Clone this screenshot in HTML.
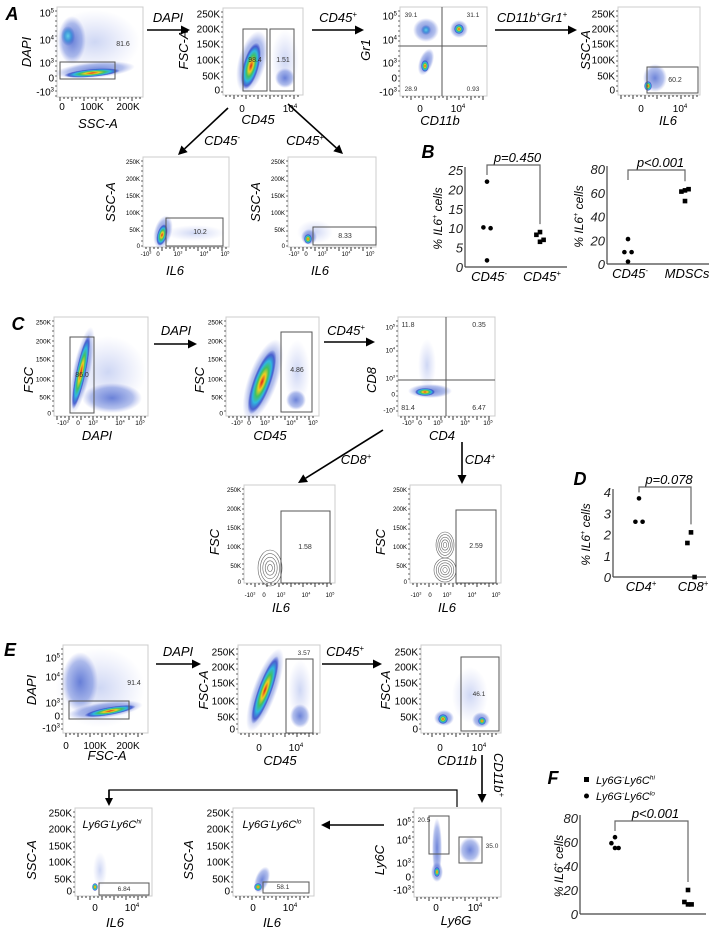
<!DOCTYPE html>
<html><head><meta charset="utf-8"><style>
html,body{margin:0;padding:0;background:#fff;}
svg{display:block;font-family:"Liberation Sans",sans-serif;}
</style></head><body>
<svg id="fig" width="709" height="933" viewBox="0 0 709 933" xmlns="http://www.w3.org/2000/svg">
<defs>
<radialGradient id="heat"><stop offset="0" stop-color="#e0201a"/><stop offset="0.25" stop-color="#f0d020"/><stop offset="0.45" stop-color="#40c060"/><stop offset="0.65" stop-color="#30b8e0"/><stop offset="0.85" stop-color="#3048c8" stop-opacity="0.8"/><stop offset="1" stop-color="#3048c8" stop-opacity="0"/></radialGradient>
<radialGradient id="haze"><stop offset="0" stop-color="#3050c8" stop-opacity="0.7"/><stop offset="0.7" stop-color="#4060d0" stop-opacity="0.4"/><stop offset="1" stop-color="#6070d8" stop-opacity="0"/></radialGradient>
<radialGradient id="lite"><stop offset="0" stop-color="#5070d8" stop-opacity="0.28"/><stop offset="1" stop-color="#7080e0" stop-opacity="0"/></radialGradient>
<radialGradient id="cyan"><stop offset="0" stop-color="#60d0e8"/><stop offset="0.5" stop-color="#3090d8" stop-opacity="0.8"/><stop offset="1" stop-color="#3050c8" stop-opacity="0"/></radialGradient>
</defs>
</svg>
<script>
// ---------- chart data ----------
const bLeftCats = ['CD45^{-}', 'CD45^{+}'];
const bLeftNeg = [22, 10.2, 10, 1.7];
const bLeftPos = [9, 8.3, 7, 6.5];
const bLeftTicks = [0, 5, 10, 15, 20, 25];
const bRightCats = ['CD45^{-}', 'MDSCs'];
const bRightNeg = [21, 10, 10, 2];
const bRightMdsc = [62, 61, 63, 53];
const bRightTicks = [0, 20, 40, 60, 80];
const dCats = ['CD4^{+}', 'CD8^{+}'];
const dCd4 = [3.7, 2.6, 2.6];
const dCd8 = [2.1, 1.6, 0];
const dTicks = [0, 1, 2, 3, 4];
const fLo = [64, 59, 55, 55];
const fHi = [20, 10, 8, 8];
const fTicks = [0, 20, 40, 60, 80];

const NS = 'http://www.w3.org/2000/svg';
const svg = document.getElementById('fig');
function mk(tag, attrs, name, parent) {
  const el = document.createElementNS(NS, tag);
  for (const k in attrs) el.setAttribute(k, attrs[k]);
  
  
  (parent || svg).appendChild(el);
  return el;
}
// text with ^x or ^{..} superscript support
function txt(x, y, s, size, name, opt) {
  opt = opt || {};
  const a = {x: x, y: y, 'font-size': size, fill: opt.fill || '#000', 'text-anchor': opt.anchor || 'middle'};
  if (opt.italic) a['font-style'] = 'italic';
  if (opt.bold) a['font-weight'] = 'bold';
  if (opt.rot) a.transform = 'rotate(' + opt.rot + ' ' + x + ' ' + y + ')';
  const t = mk('text', a, name, opt.parent);
  const re = /\^\{([^}]*)\}|\^(.)/g;
  let last = 0, m, raised = false;
  const add = (str, sup) => {
    if (!str) return;
    const sp = document.createElementNS(NS, 'tspan');
    if (sup && !raised) { sp.setAttribute('dy', -size * 0.4); raised = true; }
    else if (!sup && raised) { sp.setAttribute('dy', size * 0.4); raised = false; }
    if (sup) sp.setAttribute('font-size', size * 0.6);
    sp.textContent = str;
    t.appendChild(sp);
  };
  while ((m = re.exec(s))) {
    add(s.slice(last, m.index), false);
    add(m[1] !== undefined ? m[1] : m[2], true);
    last = re.lastIndex;
  }
  add(s.slice(last), false);
  return t;
}
function arrow(x1, y1, x2, y2, name, head) {
  head = head || 9;
  const g = mk('g', {}, name);
  const ang = Math.atan2(y2 - y1, x2 - x1);
  const bx = x2 - head * Math.cos(ang), by = y2 - head * Math.sin(ang);
  mk('line', {x1: x1, y1: y1, x2: bx, y2: by, stroke: '#000', 'stroke-width': 1.6}, 'arrow-shaft', g);
  const px = Math.sin(ang) * head * 0.5, py = -Math.cos(ang) * head * 0.5;
  mk('polygon', {points: x2 + ',' + y2 + ' ' + (bx + px) + ',' + (by + py) + ' ' + (bx - px) + ',' + (by - py), fill: '#000'}, 'arrow-head', g);
  return g;
}
function blob(g, type, cx, cy, rx, ry, rot) {
  mk('ellipse', {cx: cx, cy: cy, rx: rx, ry: ry, fill: 'url(#' + type + ')', transform: 'rotate(' + (rot || 0) + ' ' + cx + ' ' + cy + ')'}, 'cell-population', g);
}
function flow(c) {
  const g = mk('g', {}, c.name);
  mk('rect', {x: c.x, y: c.y, width: c.w, height: c.h, fill: '#fff', stroke: '#ccc', 'stroke-width': 1}, 'plot-frame', g);
  (c.blobs || []).forEach(b => blob(g, b[0], b[1], b[2], b[3], b[4], b[5]));
  (c.contours || []).forEach(b => {
    for (let i = 1; i <= 5; i++) mk('ellipse', {cx: b[0], cy: b[1], rx: b[2] * i / 5, ry: b[3] * i / 5, fill: 'none', stroke: '#666', 'stroke-width': 0.6}, 'contour', g);
  });
  (c.gates || []).forEach(r => mk('rect', {x: r[0], y: r[1], width: r[2] - r[0], height: r[3] - r[1], fill: 'none', stroke: '#555', 'stroke-width': 1}, 'gate', g));
  if (c.cross) {
    mk('line', {x1: c.cross[0], y1: c.y, x2: c.cross[0], y2: c.y + c.h, stroke: '#555', 'stroke-width': 1}, 'quadrant-line-v', g);
    mk('line', {x1: c.x, y1: c.cross[1], x2: c.x + c.w, y2: c.cross[1], stroke: '#555', 'stroke-width': 1}, 'quadrant-line-h', g);
  }
  (c.nums || []).forEach(n => txt(n[0], n[1], n[2], c.nfs || 7, 'gate-percentage', {fill: '#333', parent: g}));
  for (let xx = c.x + 3; xx < c.x + c.w - 2; xx += 4) mk('line', {x1: xx, y1: c.y + c.h, x2: xx, y2: c.y + c.h + (xx % 3 === 0 ? 4 : 2), stroke: '#000', 'stroke-width': 0.8}, 'x-tick', g);
  for (let yy = c.y + 4; yy < c.y + c.h; yy += 5) mk('line', {x1: c.x, y1: yy, x2: c.x - 2, y2: yy, stroke: '#000', 'stroke-width': 0.6}, 'y-tick', g);
  (c.yt || []).forEach(t => txt(c.x - 3, t[1] + c.tfs * 0.35, t[0], c.tfs, 'y-tick-label', {anchor: 'end', parent: g}));
  (c.xt || []).forEach(t => txt(t[1], t[2] || (c.y + c.h + c.tfs + 5), t[0], c.tfs, 'x-tick-label', {parent: g}));
  if (c.xl) txt(c.xl[0], c.xl[1], c.xl[2], c.lfs || 13, 'x-axis-title', {italic: true, parent: g});
  if (c.yl) txt(c.yl[0], c.yl[1], c.yl[2], c.lfs || 13, 'y-axis-title', {italic: true, rot: -90, parent: g});
  if (c.title) txt(c.title[0], c.title[1], c.title[2], 11, 'plot-title', {italic: true, parent: g});
  return g;
}
const logY = (y0) => [['10^5', y0[0]], ['10^4', y0[1]], ['10^3', y0[2]], ['0', y0[3]], ['-10^3', y0[4]]];
const linY = (y0, lab) => lab.map((l, i) => [l, y0[i]]);
const K = ['250K', '200K', '150K', '100K', '50K', '0'];

[['A', 12, 20], ['B', 428, 158], ['C', 18, 330], ['D', 580, 485], ['E', 10, 656], ['F', 553, 784]].forEach(p => txt(p[1], p[2], p[0], 18, 'panel-label-' + p[0].toLowerCase(), {italic: true, bold: true}));

// ---- Row A ----
flow({name: 'plot-a-dapi-ssc', x: 57, y: 7, w: 86, h: 90, tfs: 10, yt: logY([13, 40, 63, 78, 92]),
  xt: [['0', 62, 110], ['100K', 92, 110], ['200K', 128, 110]], xl: [98, 128, 'SSC-A'], yl: [31, 52, 'DAPI'],
  blobs: [['lite', 95, 42, 45, 32], ['haze', 72, 40, 14, 24], ['cyan', 68, 36, 7, 10], ['haze', 95, 70, 40, 8, -5], ['heat', 92, 73, 28, 4, -5]],
  gates: [[60, 62, 115, 79]], nums: [[123, 46, '81.6']]});
arrow(147, 30, 190, 30, 'arrow-dapi'); txt(168, 22, 'DAPI', 13, 'arrow-label', {italic: true});
flow({name: 'plot-a-fsc-cd45', x: 223, y: 8, w: 80, h: 87, tfs: 10, yt: linY([14, 29, 44, 60, 76, 90], K),
  xt: [['0', 242, 112], ['10^4', 290, 112]], xl: [258, 124, 'CD45'], yl: [188, 50, 'FSC-A'],
  blobs: [['lite', 285, 60, 14, 30], ['haze', 285, 78, 10, 10], ['haze', 252, 62, 14, 32, 15], ['heat', 251, 66, 8, 24, 15]],
  gates: [[243, 29, 267, 91], [270, 29, 294, 91]], nums: [[255, 62, '98.4'], [283, 62, '1.51']]});
arrow(312, 30, 364, 30, 'arrow-cd45pos'); txt(338, 22, 'CD45^{+}', 13, 'arrow-label', {italic: true});
flow({name: 'plot-a-gr1-cd11b', x: 400, y: 7, w: 87, h: 89, tfs: 10, yt: logY([16, 40, 63, 78, 92]),
  xt: [['0', 420, 112], ['10^4', 458, 112]], xl: [440, 125, 'CD11b'], yl: [370, 50, 'Gr1'], cross: [442, 46],
  blobs: [['haze', 426, 30, 13, 12], ['cyan', 426, 30, 5, 5], ['haze', 459, 29, 9, 9], ['heat', 459, 29, 5, 5], ['haze', 426, 62, 7, 14, 20], ['heat', 425, 66, 4, 6]],
  nums: [[411, 17, '39.1'], [473, 17, '31.1'], [411, 91, '28.9'], [473, 91, '0.93']], nfs: 6.5});
arrow(495, 30, 577, 30, 'arrow-cd11b-gr1'); txt(532, 22, 'CD11b^{+}Gr1^{+}', 13, 'arrow-label', {italic: true});
flow({name: 'plot-a-ssc-il6', x: 618, y: 7, w: 82, h: 88, tfs: 10, yt: linY([14, 29, 44, 60, 76, 90], K),
  xt: [['0', 641, 112], ['10^4', 680, 112]], xl: [668, 125, 'IL6'], yl: [590, 50, 'SSC-A'],
  blobs: [['haze', 655, 78, 12, 14], ['heat', 648, 86, 4, 5]], gates: [[647, 67, 698, 93]], nums: [[675, 82, '60.2']]});
arrow(228, 108, 178, 155, 'arrow-cd45neg-down'); txt(222, 145, 'CD45^{-}', 13, 'arrow-label', {italic: true});
arrow(288, 104, 343, 154, 'arrow-cd45pos-down'); txt(305, 145, 'CD45^{+}', 13, 'arrow-label', {italic: true});
flow({name: 'plot-a-cd45neg-il6', x: 143, y: 157, w: 86, h: 90, tfs: 6, yt: linY([162, 179, 196, 213, 230, 246], K),
  xt: [['-10^3', 146, 256], ['0', 158, 256], ['10^3', 178, 256], ['10^4', 204, 256], ['10^5', 225, 256]], xl: [175, 275, 'IL6'], yl: [115, 202, 'SSC-A'],
  blobs: [['lite', 195, 233, 30, 8], ['haze', 163, 232, 9, 17, 15], ['heat', 162, 235, 5, 11, 15]], gates: [[166, 218, 223, 246]], nums: [[200, 234, '10.2']]});
flow({name: 'plot-a-cd45pos-il6', x: 288, y: 157, w: 88, h: 90, tfs: 6, yt: linY([162, 179, 196, 213, 230, 246], K),
  xt: [['-10^3', 294, 256], ['0', 306, 256], ['10^3', 322, 256], ['10^4', 346, 256], ['10^5', 370, 256]], xl: [320, 275, 'IL6'], yl: [260, 202, 'SSC-A'],
  blobs: [['lite', 315, 232, 18, 12], ['haze', 309, 237, 8, 8], ['heat', 308, 239, 4, 5]], gates: [[313, 227, 376, 245]], nums: [[345, 238, '8.33']]});

// ---- Row C ----
flow({name: 'plot-c-fsc-dapi', x: 54, y: 317, w: 94, h: 99, tfs: 6.5, yt: linY([322, 341, 359, 379, 397, 413], K),
  xt: [['-10^3', 63, 425], ['0', 78, 425], ['10^3', 93, 425], ['10^4', 120, 425], ['10^5', 140, 425]], xl: [97, 440, 'DAPI'], yl: [33, 380, 'FSC'],
  blobs: [['lite', 108, 372, 38, 36], ['haze', 112, 398, 30, 15], ['haze', 82, 370, 9, 44, 12], ['heat', 81, 372, 5, 38, 12]],
  gates: [[70, 337, 94, 413]], nums: [[82, 377, '86.0']]});
arrow(154, 344, 197, 344, 'arrow-dapi'); txt(176, 335, 'DAPI', 13, 'arrow-label', {italic: true});
flow({name: 'plot-c-fsc-cd45', x: 226, y: 317, w: 93, h: 99, tfs: 6.5, yt: linY([322, 341, 359, 379, 397, 413], K),
  xt: [['-10^3', 237, 425], ['0', 249, 425], ['10^3', 265, 425], ['10^4', 291, 425], ['10^5', 313, 425]], xl: [270, 440, 'CD45'], yl: [204, 380, 'FSC'],
  blobs: [['lite', 297, 372, 13, 32], ['haze', 296, 400, 10, 10], ['haze', 263, 380, 15, 43, 20], ['heat', 262, 382, 9, 34, 20]],
  gates: [[281, 332, 312, 412]], nums: [[297, 372, '4.86']]});
arrow(324, 342, 375, 342, 'arrow-cd45pos'); txt(346, 335, 'CD45^{+}', 13, 'arrow-label', {italic: true});
flow({name: 'plot-c-cd8-cd4', x: 398, y: 317, w: 97, h: 99, tfs: 6.5, yt: logY([327, 350, 378, 394, 410]),
  xt: [['-10^3', 408, 425], ['0', 420, 425], ['10^3', 438, 425], ['10^4', 465, 425], ['10^5', 488, 425]], xl: [442, 440, 'CD4'], yl: [376, 380, 'CD8'], cross: [446, 380],
  blobs: [['lite', 427, 365, 9, 26], ['haze', 430, 391, 22, 7], ['heat', 425, 392, 10, 4]],
  nums: [[408, 327, '11.8'], [479, 327, '0.35'], [408, 410, '81.4'], [479, 410, '6.47']]});
arrow(383, 430, 298, 483, 'arrow-cd8pos'); txt(356, 464, 'CD8^{+}', 13, 'arrow-label', {italic: true});
arrow(462, 442, 462, 484, 'arrow-cd4pos'); txt(480, 464, 'CD4^{+}', 13, 'arrow-label', {italic: true});
flow({name: 'plot-c-cd8-il6', x: 244, y: 485, w: 91, h: 98, tfs: 6, yt: linY([490, 509, 528, 547, 566, 582], K),
  xt: [['-10^3', 250, 597], ['0', 264, 597], ['10^3', 281, 597], ['10^4', 306, 597], ['10^5', 330, 597]], xl: [281, 612, 'IL6'], yl: [219, 542, 'FSC'],
  contours: [[270, 568, 12, 18]], gates: [[281, 511, 330, 583]], nums: [[305, 549, '1.58']]});
flow({name: 'plot-c-cd4-il6', x: 410, y: 485, w: 91, h: 98, tfs: 6, yt: linY([490, 509, 528, 547, 566, 582], K),
  xt: [['-10^3', 416, 597], ['0', 430, 597], ['10^3', 447, 597], ['10^4', 472, 597], ['10^5', 496, 597]], xl: [447, 612, 'IL6'], yl: [385, 542, 'FSC'],
  contours: [[445, 545, 9, 13], [445, 570, 11, 12]], gates: [[456, 510, 496, 583]], nums: [[476, 548, '2.59']]});

// ---- Row E ----
flow({name: 'plot-e-dapi-fsc', x: 63, y: 645, w: 85, h: 88, tfs: 10, yt: logY([658, 677, 703, 716, 728]),
  xt: [['0', 66, 749], ['100K', 95, 749], ['200K', 128, 749]], xl: [107, 760, 'FSC-A'], yl: [36, 690, 'DAPI'],
  blobs: [['lite', 100, 688, 45, 40], ['haze', 80, 682, 18, 30], ['haze', 105, 710, 38, 8, -8], ['heat', 110, 711, 26, 4, -10]],
  gates: [[69, 701, 129, 719]], nums: [[134, 685, '91.4']]});
arrow(156, 664, 201, 664, 'arrow-dapi'); txt(178, 656, 'DAPI', 13, 'arrow-label', {italic: true});
flow({name: 'plot-e-fsc-cd45', x: 238, y: 645, w: 82, h: 88, tfs: 10, yt: linY([652, 667, 683, 701, 717, 729], K),
  xt: [['0', 259, 751], ['10^4', 296, 751]], xl: [280, 765, 'CD45'], yl: [208, 690, 'FSC-A'],
  blobs: [['lite', 300, 690, 12, 30], ['haze', 300, 716, 10, 12], ['haze', 265, 690, 12, 44, 20], ['heat', 265, 690, 7, 36, 20]],
  gates: [[286, 659, 313, 733]], nums: [[304, 655, '3.57']], nfs: 6.5});
arrow(322, 664, 382, 664, 'arrow-cd45pos'); txt(345, 656, 'CD45^{+}', 13, 'arrow-label', {italic: true});
flow({name: 'plot-e-fsc-cd11b', x: 421, y: 645, w: 80, h: 88, tfs: 10, yt: linY([652, 667, 683, 701, 717, 729], K),
  xt: [['0', 440, 751], ['10^4', 479, 751]], xl: [457, 765, 'CD11b'], yl: [390, 690, 'FSC-A'],
  blobs: [['lite', 470, 695, 18, 28], ['haze', 444, 718, 10, 8], ['heat', 443, 719, 5, 5], ['haze', 481, 720, 9, 8], ['heat', 482, 721, 4, 4]],
  gates: [[461, 657, 499, 731]], nums: [[479, 696, '46.1']], nfs: 6.5});
arrow(482, 755, 482, 803, 'arrow-cd11bpos'); txt(494, 775, 'CD11b^{+}', 13, 'arrow-label', {italic: true, rot: 90});
flow({name: 'plot-e-ly6c-ly6g', x: 414, y: 808, w: 87, h: 89, tfs: 10, yt: logY([822, 840, 863, 877, 890]),
  xt: [['0', 436, 911], ['10^4', 475, 911]], xl: [456, 925, 'Ly6G'], yl: [384, 860, 'Ly6C'],
  blobs: [['haze', 437, 848, 5, 30], ['haze', 437, 872, 6, 10], ['heat', 437, 872, 3, 5], ['haze', 470, 850, 11, 13]],
  gates: [[429, 816, 449, 854], [459, 837, 482, 863]], nums: [[424, 822, '20.5'], [492, 848, '35.0']], nfs: 6.5});
mk('polyline', {points: '457,807 457,790 109,790 109,798', fill: 'none', stroke: '#000', 'stroke-width': 1.2}, 'connector-line');
arrow(109, 790, 109, 806, 'arrow-ly6chi', 8);
arrow(384, 825, 321, 825, 'arrow-ly6clo');
flow({name: 'plot-e-ly6clo-il6', x: 233, y: 808, w: 81, h: 88, tfs: 10, yt: linY([813, 829, 846, 862, 879, 891], K),
  xt: [['0', 253, 911], ['10^4', 290, 911]], xl: [272, 927, 'IL6'], yl: [193, 860, 'SSC-A'], title: [272, 828, 'Ly6G^{-}Ly6C^{lo}'],
  blobs: [['haze', 262, 880, 7, 14, 20], ['heat', 258, 887, 4, 4]], gates: [[263, 882, 309, 893]], nums: [[283, 889, '58.1']], nfs: 6.5});
flow({name: 'plot-e-ly6chi-il6', x: 75, y: 808, w: 77, h: 88, tfs: 10, yt: linY([813, 829, 846, 862, 879, 891], K),
  xt: [['0', 95, 911], ['10^4', 132, 911]], xl: [115, 927, 'IL6'], yl: [36, 860, 'SSC-A'], title: [112, 828, 'Ly6G^{-}Ly6C^{hi}'],
  blobs: [['lite', 100, 870, 7, 18], ['heat', 95, 887, 3, 4]], gates: [[99, 883, 149, 895]], nums: [[124, 891, '6.84']], nfs: 6.5});

// ---------- dot charts ----------
function dotChart(c) {
  const g = mk('g', {}, c.name);
  const ys = v => c.bottom - v / c.max * (c.bottom - c.top);
  mk('line', {x1: c.x0, y1: c.top - 3, x2: c.x0, y2: c.bottom, stroke: '#444', 'stroke-width': 1.2}, 'y-axis', g);
  mk('line', {x1: c.x0, y1: c.bottom, x2: c.x1, y2: c.bottom, stroke: '#444', 'stroke-width': 1.2}, 'x-axis', g);
  c.ticks.forEach(t => txt(c.x0 - 2, ys(t) + 5, String(t), 13, 'y-tick-label', {anchor: 'end', italic: true, fill: '#222', parent: g}));
  txt(c.ytx, (c.top + c.bottom) / 2, '% IL6^{+} cells', 12, 'y-axis-title', {italic: true, rot: -90, parent: g});
  const jit = [0, -3, 3, 0, 2];
  c.series.forEach((s, si) => {
    const cx = c.cx[si];
    if (c.cats[si]) txt(cx + 2, c.bottom + 14, c.cats[si], 13, 'x-tick-label', {italic: true, parent: g});
    s.vals.forEach((v, i) => {
      const xx = cx + jit[i] * 1.2;
      if (s.shape === 'sq') {
        mk('rect', {x: xx - 2.3, y: ys(v) - 2.3, width: 4.6, height: 4.6, fill: '#000'}, 'point-square', g);
      } else {
        mk('circle', {cx: xx, cy: ys(v), r: 2.3, fill: '#000'}, 'point-circle', g);
      }
    });
  });
  const a = c.cx[0], b = c.cx[1];
  const la = ys(Math.max(...c.series[0].vals)) - 6, lb = ys(Math.max(...c.series[1].vals)) - 8;
  const top = c.top - 5 + (c.bOff || 0);
  mk('polyline', {points: a + ',' + Math.min(la, top + 10) + ' ' + a + ',' + top + ' ' + b + ',' + top + ' ' + b + ',' + lb, fill: 'none', stroke: '#666', 'stroke-width': 1.2}, 'significance-bracket', g);
  txt((a + b) / 2 + 4, top - 3, c.p, 13, 'p-value', {italic: true, parent: g});
}
dotChart({name: 'chart-b-cd45', x0: 465, x1: 567, top: 170, bottom: 267, max: 25, ticks: bLeftTicks, ytx: 442, cats: bLeftCats, cx: [487, 540],
  series: [{vals: bLeftNeg, shape: 'c'}, {vals: bLeftPos, shape: 'sq'}], p: 'p=0.450'});
dotChart({name: 'chart-b-mdsc', x0: 607, x1: 709, top: 169, bottom: 264, max: 80, ticks: bRightTicks, ytx: 583, cats: bRightCats, cx: [628, 685],
  series: [{vals: bRightNeg, shape: 'c'}, {vals: bRightMdsc, shape: 'sq'}], p: 'p<0.001', bOff: 6});
dotChart({name: 'chart-d-tcells', x0: 613, x1: 706, top: 492, bottom: 577, max: 4, ticks: dTicks, ytx: 590, cats: dCats, cx: [639, 691],
  series: [{vals: dCd4, shape: 'c'}, {vals: dCd8, shape: 'sq'}], p: 'p=0.078'});
dotChart({name: 'chart-f-ly6c', x0: 580, x1: 706, top: 818, bottom: 914, max: 80, ticks: fTicks, ytx: 563, cats: ['', ''], cx: [615, 688],
  series: [{vals: fLo, shape: 'c'}, {vals: fHi, shape: 'sq'}], p: 'p<0.001', bOff: 8});
const lg = mk('g', {}, 'legend-f');
mk('rect', {x: 584, y: 777, width: 5, height: 5, fill: '#000'}, 'legend-marker-square', lg);
txt(596, 784, 'Ly6G^{-}Ly6C^{hi}', 11, 'legend-entry', {italic: true, anchor: 'start', parent: lg});
mk('circle', {cx: 586.5, cy: 796, r: 2.5, fill: '#000'}, 'legend-marker-circle', lg);
txt(596, 800, 'Ly6G^{-}Ly6C^{lo}', 11, 'legend-entry', {italic: true, anchor: 'start', parent: lg});
</script>
</body></html>
